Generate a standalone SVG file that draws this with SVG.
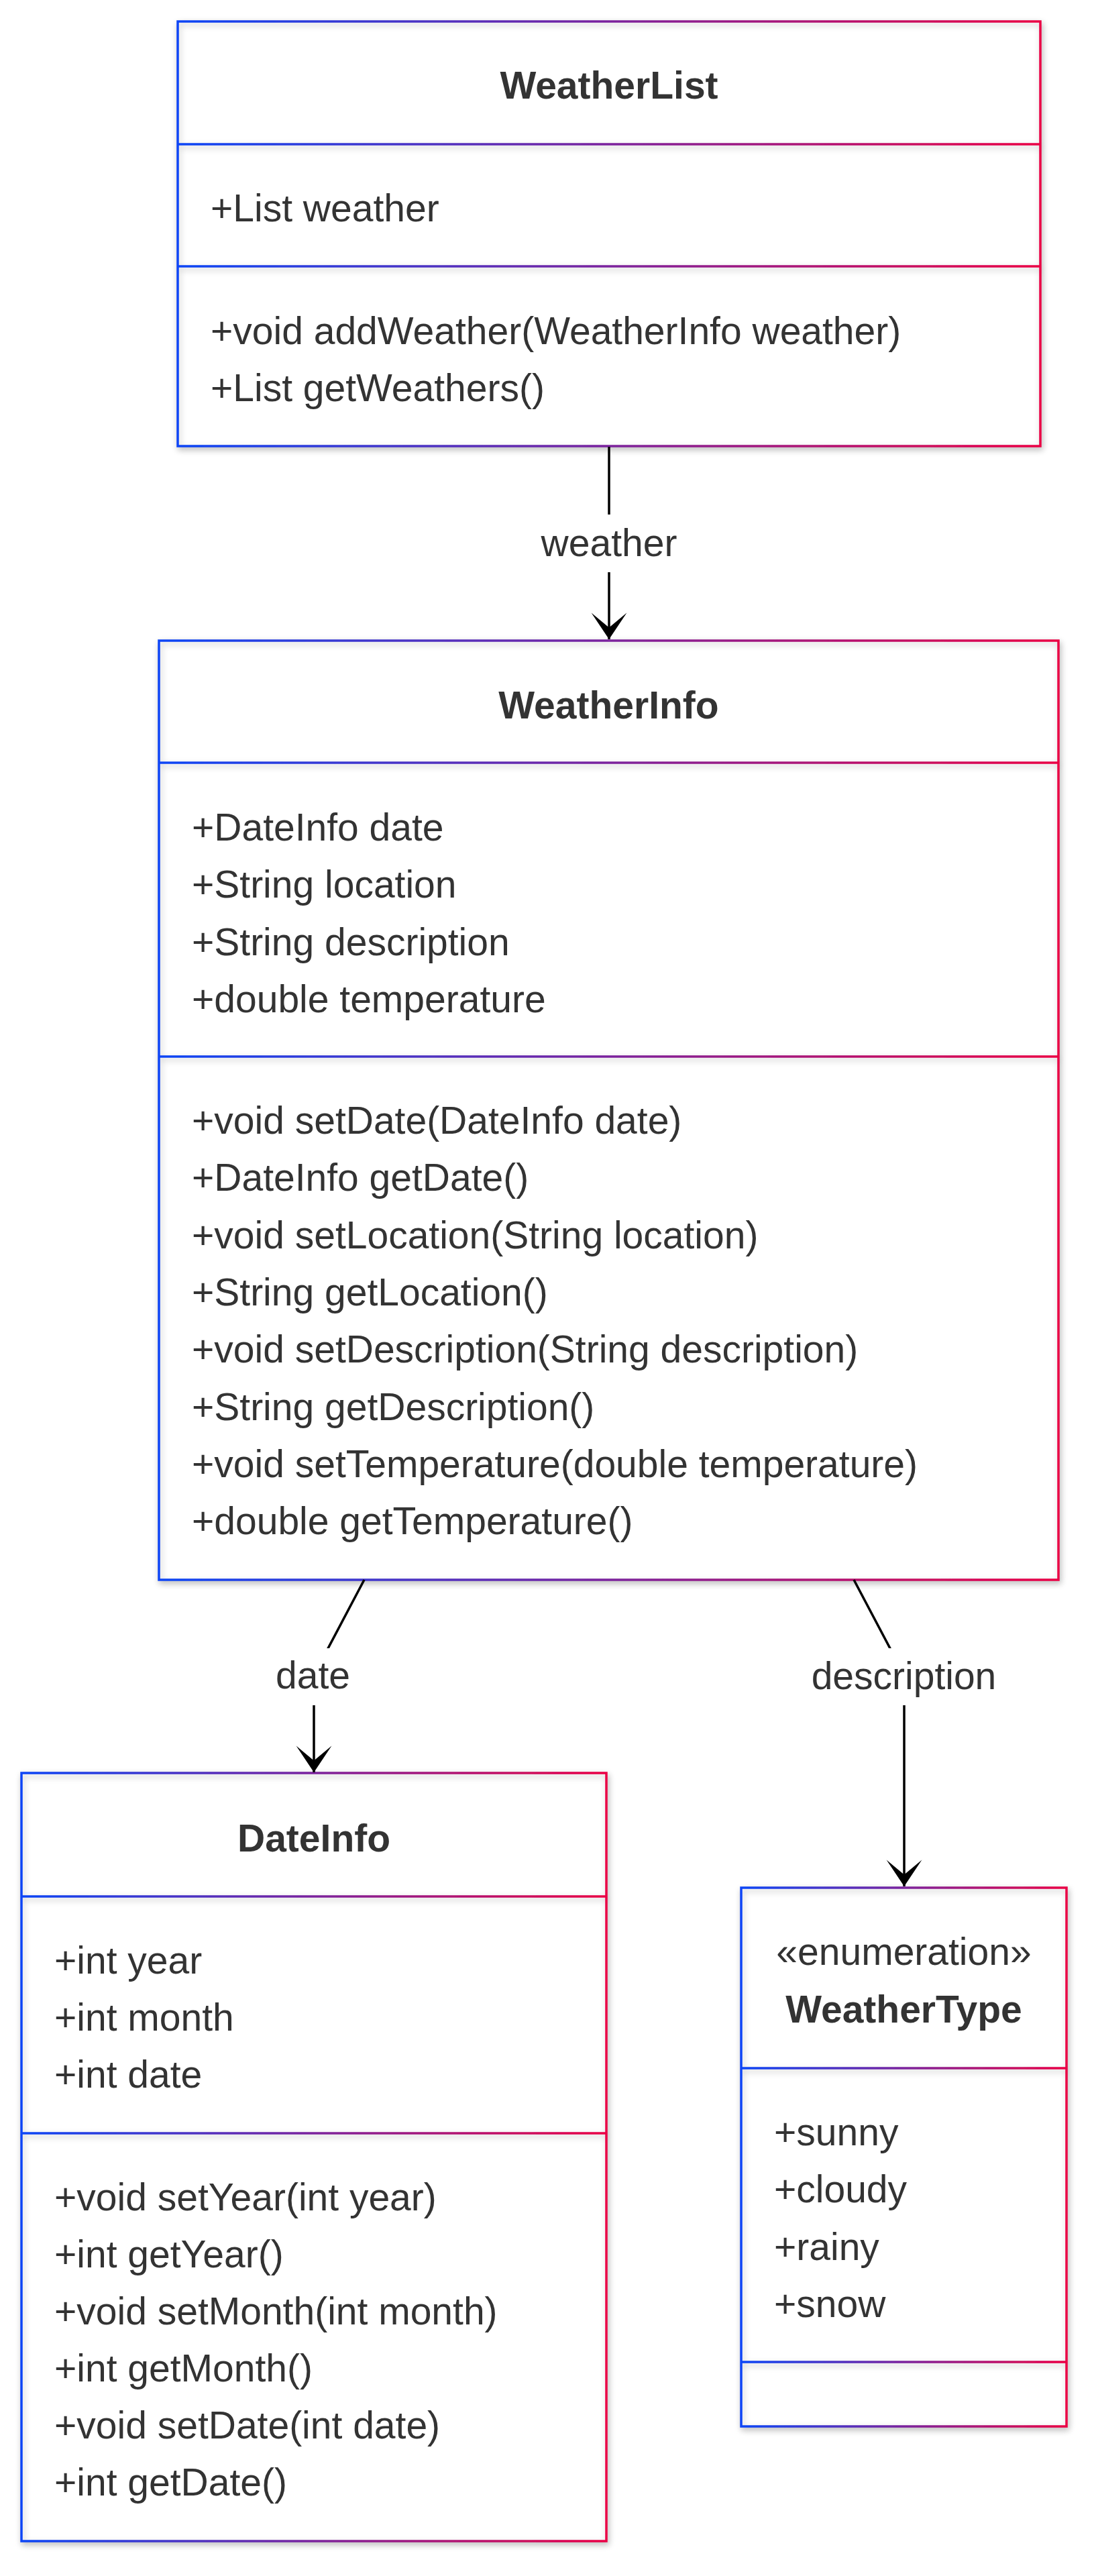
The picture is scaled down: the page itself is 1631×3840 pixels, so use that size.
<svg xmlns="http://www.w3.org/2000/svg" width="1631" height="3840" viewBox="0 0 1631 3840">
<defs>
<style>
text { font-family: "Liberation Sans", Arial, Helvetica, sans-serif; font-size: 57px; fill: #333333; }
.title { font-weight: bold; text-anchor: middle; }
.center { text-anchor: middle; }
.bg { fill: #ffffff; }
.frame { fill: none; stroke-width: 3.5; }
.edge { fill: none; stroke: #000000; stroke-width: 3.5; }
.lblbg { fill: #ffffff; }
</style>
<filter id="sh" filterUnits="userSpaceOnUse" x="0" y="0" width="1631" height="3840">
<feDropShadow dx="2" dy="4" stdDeviation="5" flood-color="#000000" flood-opacity="0.22"/>
</filter>
<linearGradient id="gWL" gradientUnits="userSpaceOnUse" x1="265" y1="0" x2="1551" y2="0"><stop offset="0" stop-color="#0b45f6"/><stop offset="1" stop-color="#ea0044"/></linearGradient>
<linearGradient id="gWI" gradientUnits="userSpaceOnUse" x1="237" y1="0" x2="1578" y2="0"><stop offset="0" stop-color="#0b45f6"/><stop offset="1" stop-color="#ea0044"/></linearGradient>
<linearGradient id="gDI" gradientUnits="userSpaceOnUse" x1="32" y1="0" x2="904" y2="0"><stop offset="0" stop-color="#0b45f6"/><stop offset="1" stop-color="#ea0044"/></linearGradient>
<linearGradient id="gWT" gradientUnits="userSpaceOnUse" x1="1105" y1="0" x2="1590" y2="0"><stop offset="0" stop-color="#0b45f6"/><stop offset="1" stop-color="#ea0044"/></linearGradient>
<marker id="arr" markerUnits="userSpaceOnUse" viewBox="0 0 20 14" refX="18" refY="7" markerWidth="88" markerHeight="62" orient="auto"><path d="M18,7 L9,13 L14,7 L9,1 Z" fill="#000000"/></marker>
</defs>
<rect width="1631" height="3840" fill="#ffffff"/>

<g id="WeatherList">
<rect class="bg" x="265" y="32" width="1286" height="633" filter="url(#sh)"/>
<g class="frame" stroke="url(#gWL)" filter="url(#sh)">
<rect x="265" y="32" width="1286" height="633"/>
<line x1="265" y1="215" x2="1551" y2="215"/>
<line x1="265" y1="397" x2="1551" y2="397"/>
</g>
<text class="title" x="908" y="147">WeatherList</text>
<text x="314" y="330">+List weather</text>
<text x="314" y="513">+void addWeather(WeatherInfo weather)</text>
<text x="314" y="598">+List getWeathers()</text>
</g>

<g id="WeatherInfo">
<rect class="bg" x="237" y="955" width="1341" height="1400" filter="url(#sh)"/>
<g class="frame" stroke="url(#gWI)" filter="url(#sh)">
<rect x="237" y="955" width="1341" height="1400"/>
<line x1="237" y1="1137" x2="1578" y2="1137"/>
<line x1="237" y1="1575" x2="1578" y2="1575"/>
</g>
<text class="title" x="907.5" y="1071">WeatherInfo</text>
<text x="286" y="1253">+DateInfo date</text>
<text x="286" y="1338">+String location</text>
<text x="286" y="1424">+String description</text>
<text x="286" y="1509">+double temperature</text>
<text x="286" y="1690">+void setDate(DateInfo date)</text>
<text x="286" y="1775">+DateInfo getDate()</text>
<text x="286" y="1861">+void setLocation(String location)</text>
<text x="286" y="1946">+String getLocation()</text>
<text x="286" y="2031">+void setDescription(String description)</text>
<text x="286" y="2117">+String getDescription()</text>
<text x="286" y="2202">+void setTemperature(double temperature)</text>
<text x="286" y="2287">+double getTemperature()</text>
</g>

<g id="DateInfo">
<rect class="bg" x="32" y="2643" width="872" height="1145" filter="url(#sh)"/>
<g class="frame" stroke="url(#gDI)" filter="url(#sh)">
<rect x="32" y="2643" width="872" height="1145"/>
<line x1="32" y1="2827" x2="904" y2="2827"/>
<line x1="32" y1="3180" x2="904" y2="3180"/>
</g>
<text class="title" x="468" y="2760">DateInfo</text>
<text x="81" y="2942">+int year</text>
<text x="81" y="3027">+int month</text>
<text x="81" y="3112">+int date</text>
<text x="81" y="3295">+void setYear(int year)</text>
<text x="81" y="3380">+int getYear()</text>
<text x="81" y="3465">+void setMonth(int month)</text>
<text x="81" y="3550">+int getMonth()</text>
<text x="81" y="3635">+void setDate(int date)</text>
<text x="81" y="3720">+int getDate()</text>
</g>

<g id="WeatherType">
<rect class="bg" x="1105" y="2814" width="485" height="803" filter="url(#sh)"/>
<g class="frame" stroke="url(#gWT)" filter="url(#sh)">
<rect x="1105" y="2814" width="485" height="803"/>
<line x1="1105" y1="3083" x2="1590" y2="3083"/>
<line x1="1105" y1="3521" x2="1590" y2="3521"/>
</g>
<text class="center" x="1347.5" y="2929">«enumeration»</text>
<text class="title" x="1347.5" y="3015">WeatherType</text>
<text x="1154" y="3198">+sunny</text>
<text x="1154" y="3283">+cloudy</text>
<text x="1154" y="3369">+rainy</text>
<text x="1154" y="3454">+snow</text>
</g>

<g id="connectors">
<path class="edge" d="M908,666 L908,953" marker-end="url(#arr)"/>
<path class="edge" d="M543,2355 L468,2497 L468,2642" marker-end="url(#arr)"/>
<path class="edge" d="M1273,2355 L1348,2497 L1348,2812" marker-end="url(#arr)"/>
</g>

<g id="edge-labels">
<g id="label-weather">
<rect class="lblbg" x="806" y="767" width="204" height="86"/>
<text class="center" x="908" y="829">weather</text>
</g>
<g id="label-date">
<rect class="lblbg" x="410" y="2457" width="113" height="85"/>
<text class="center" x="466.5" y="2517">date</text>
</g>
<g id="label-description">
<rect class="lblbg" x="1209" y="2457" width="277" height="85"/>
<text class="center" x="1347.5" y="2518">description</text>
</g>
</g>
</svg>
